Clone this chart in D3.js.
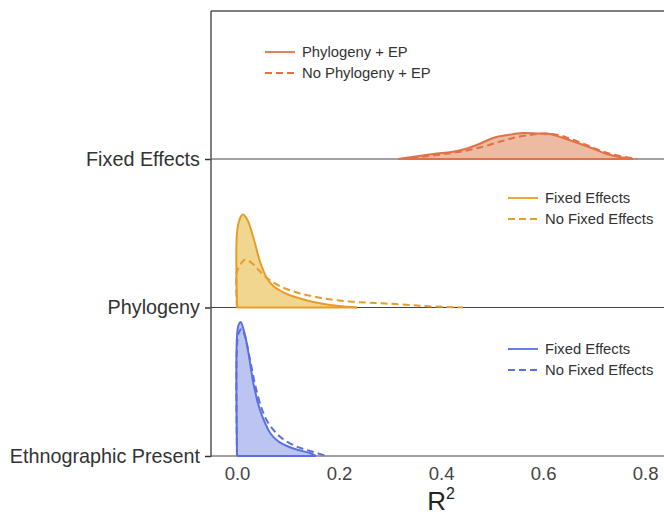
<!DOCTYPE html>
<html>
<head>
<meta charset="utf-8">
<script src="https://cdn.jsdelivr.net/npm/d3@7"></script>
<style>
  body { margin: 0; background: #fff; }
  svg { font-family: "Liberation Sans", Arial, sans-serif; }
</style>
</head>
<body>
<svg id="chart" width="664" height="515"></svg>
<script>
// categories, bottom row last
const categories = ['Fixed Effects', 'Phylogeny', 'Ethnographic Present'];
const xTicks = [0, 0.2, 0.4, 0.6, 0.8];

// Fixed Effects row
const feX = [0.316, 0.35, 0.385, 0.437, 0.47, 0.502, 0.53, 0.561, 0.59, 0.614, 0.645, 0.679, 0.70, 0.725, 0.75, 0.777];
const feSolid = [0, 0.25, 0.5, 0.86, 1.4, 2.1, 2.4, 2.6, 2.55, 2.5, 2.0, 1.4, 1.0, 0.5, 0.2, 0];
const feDashX = [0.32, 0.36, 0.40, 0.44, 0.48, 0.52, 0.55, 0.58, 0.605, 0.63, 0.66, 0.69, 0.72, 0.75, 0.785];
const feDash = [0, 0.2, 0.45, 0.75, 1.2, 1.8, 2.2, 2.45, 2.55, 2.4, 1.9, 1.3, 0.7, 0.3, 0];

// Phylogeny row
const phX = [0, 0, 0.005, 0.011, 0.02, 0.032, 0.045, 0.058, 0.07, 0.084, 0.1, 0.124, 0.15, 0.176, 0.2, 0.235];
const phSolid = [0, 7.5, 8.8, 9.3, 8.8, 7.0, 4.6, 3.0, 2.2, 1.7, 1.3, 0.9, 0.55, 0.3, 0.15, 0];
const phDashX = [0, 0, 0.008, 0.016, 0.03, 0.045, 0.065, 0.09, 0.124, 0.16, 0.2, 0.25, 0.29, 0.34, 0.385, 0.443];
const phDash = [0, 3.6, 4.4, 4.8, 4.4, 3.6, 2.7, 2.0, 1.4, 1.0, 0.7, 0.5, 0.4, 0.25, 0.1, 0];

// Ethnographic Present row
const epX = [0, 0, 0.003, 0.007, 0.012, 0.019, 0.025, 0.032, 0.045, 0.055, 0.065, 0.08, 0.098, 0.12, 0.143, 0.155];
const epSolid = [0, 12.0, 13.1, 13.4, 12.8, 11.3, 9.5, 7.3, 4.6, 3.3, 2.3, 1.5, 1.0, 0.6, 0.3, 0];
const epDashX = [0, 0, 0.004, 0.009, 0.014, 0.02, 0.028, 0.036, 0.048, 0.06, 0.075, 0.09, 0.11, 0.13, 0.15, 0.175];
const epDash = [0, 11.0, 12.4, 12.7, 12.2, 11.0, 9.0, 7.0, 4.8, 3.4, 2.4, 1.7, 1.1, 0.7, 0.4, 0];

const ridges = [
  { cat: 'Fixed Effects', color: '#e07245', fill: '#ecbba2', legend: ['Phylogeny + EP', 'No Phylogeny + EP'], lx: 265, ly: 52,
    solid: { x: feX, y: feSolid }, dash: { x: feDashX, y: feDash } },
  { cat: 'Phylogeny', color: '#e69c2a', fill: '#f0d68e', legend: ['Fixed Effects', 'No Fixed Effects'], lx: 508, ly: 198,
    solid: { x: phX, y: phSolid }, dash: { x: phDashX, y: phDash } },
  { cat: 'Ethnographic Present', color: '#5a70e0', fill: '#bcc5f2', legend: ['Fixed Effects', 'No Fixed Effects'], lx: 508, ly: 349,
    solid: { x: epX, y: epSolid }, dash: { x: epDashX, y: epDash } }
];

const svg = d3.select('#chart');
const plotLeft = 211, plotRight = 664, plotTop = 11, plotBottom = 457;

const x = d3.scaleLinear().domain([-0.051, 0.837]).range([plotLeft, plotRight]);
const yCat = d3.scalePoint().domain(categories).range([159, 456]);
const h = d3.scaleLinear().domain([0, 1]).range([0, 10]);

// baselines for each row
svg.append('g')
  .selectAll('line')
  .data(categories)
  .join('line')
  .attr('x1', plotLeft).attr('x2', plotRight)
  .attr('y1', d => yCat(d)).attr('y2', d => yCat(d))
  .attr('stroke', '#444').attr('stroke-width', 1.2);

// top frame line
svg.append('line')
  .attr('x1', plotLeft).attr('x2', plotRight).attr('y1', plotTop).attr('y2', plotTop)
  .attr('stroke', '#555').attr('stroke-width', 1.5);

ridges.forEach(r => {
  const base = yCat(r.cat);
  const pts = s => s.x.map((v, i) => [v, s.y[i]]);
  const area = d3.area()
    .x(d => x(d[0])).y0(base).y1(d => base - h(d[1]))
    .curve(d3.curveCatmullRom.alpha(0.5));
  const line = d3.line()
    .x(d => x(d[0])).y(d => base - h(d[1]))
    .curve(d3.curveCatmullRom.alpha(0.5));

  const g = svg.append('g');
  g.append('path').datum(pts(r.solid))
    .attr('d', area).attr('fill', r.fill);
  g.append('path').datum(pts(r.dash))
    .attr('d', line).attr('fill', 'none').attr('stroke', r.color)
    .attr('stroke-width', 2).attr('stroke-dasharray', '7,4');
  g.append('path').datum(pts(r.solid))
    .attr('d', line).attr('fill', 'none').attr('stroke', r.color).attr('stroke-width', 2);
  // baseline under the fill, in the series colour
  const xs = r.solid.x;
  g.append('line')
    .attr('x1', x(xs[0])).attr('x2', x(xs[xs.length - 1]))
    .attr('y1', base).attr('y2', base)
    .attr('stroke', r.color).attr('stroke-width', 2);

  // legend
  const lg = svg.append('g').attr('transform', `translate(${r.lx},${r.ly})`);
  r.legend.forEach((t, i) => {
    lg.append('line')
      .attr('x1', 0).attr('x2', 30).attr('y1', i * 21).attr('y2', i * 21)
      .attr('stroke', r.color).attr('stroke-width', 1.8)
      .attr('stroke-dasharray', i === 1 ? '7,4' : null);
    lg.append('text')
      .attr('x', 37).attr('y', i * 21).attr('dy', '0.35em')
      .attr('font-size', 14.8).attr('fill', '#333').text(t);
  });
});

// y axis
const yAxis = svg.append('g')
  .attr('transform', `translate(${plotLeft},0)`)
  .call(d3.axisLeft(yCat).tickSize(6).tickPadding(5));
yAxis.select('.domain').remove();
yAxis.append('line').attr('x1', 0).attr('x2', 0).attr('y1', plotTop).attr('y2', plotBottom)
  .attr('stroke', '#555').attr('stroke-width', 1.5);
yAxis.selectAll('.tick line').attr('stroke', '#333').attr('stroke-width', 1.5);
yAxis.selectAll('.tick text').attr('font-size', 19.8).attr('fill', '#333')
  .attr('font-family', '"Liberation Sans", Arial, sans-serif');

// x axis
const xAxis = svg.append('g')
  .attr('transform', `translate(0,${plotBottom})`)
  .call(d3.axisBottom(x).tickValues(xTicks).tickFormat(d3.format('.1f')).tickSize(0).tickPadding(10));
xAxis.select('.domain').remove();
xAxis.selectAll('.tick text').attr('font-size', 18.5).attr('fill', '#444')
  .attr('font-family', '"Liberation Sans", Arial, sans-serif');

// x axis title
const title = svg.append('text')
  .attr('x', x(0.4)).attr('y', 510)
  .attr('text-anchor', 'middle').attr('font-size', 26).attr('fill', '#222');
title.append('tspan').text('R');
title.append('tspan').attr('font-size', 16).attr('dy', -11).text('2');
</script>
</body>
</html>
